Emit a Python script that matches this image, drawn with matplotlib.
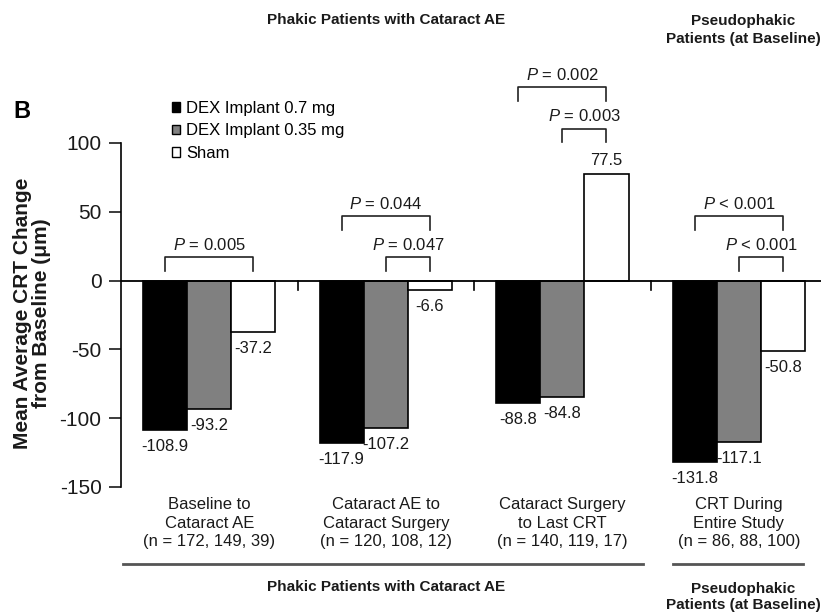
import matplotlib
matplotlib.use("Agg")
import matplotlib.pyplot as plt
import matplotlib.transforms as mtransforms
from matplotlib.patches import Patch
from matplotlib.lines import Line2D
import numpy as np

plt.rcParams['font.family'] = ['Liberation Sans', 'DejaVu Sans']
plt.rcParams['mathtext.fontset'] = 'custom'
plt.rcParams['mathtext.rm'] = 'Liberation Sans'
plt.rcParams['mathtext.it'] = 'Liberation Sans:italic'

# ---------------- data ----------------
categories = [
    "Baseline to\nCataract AE\n(n = 172, 149, 39)",
    "Cataract AE to\nCataract Surgery\n(n = 120, 108, 12)",
    "Cataract Surgery\nto Last CRT\n(n = 140, 119, 17)",
    "CRT During\nEntire Study\n(n = 86, 88, 100)",
]
series_names = ["DEX Implant 0.7 mg", "DEX Implant 0.35 mg", "Sham"]
dex_07 = [-108.9, -117.9, -88.8, -131.8]
dex_035 = [-93.2, -107.2, -84.8, -117.1]
sham = [-37.2, -6.6, 77.5, -50.8]
y_ticks = [100, 50, 0, -50, -100, -150]

# significance brackets: group, from-series, to-series, stacking tier, label
bracket_group = [0, 1, 1, 2, 2, 3, 3]
bracket_from = [0, 0, 1, 0, 1, 0, 1]
bracket_to = [2, 2, 2, 2, 2, 2, 2]
bracket_tier = [0, 1, 0, 1, 0, 1, 0]
bracket_label = [r"$\it{P}$ = 0.005", r"$\it{P}$ = 0.044", r"$\it{P}$ = 0.047",
                 r"$\it{P}$ = 0.002", r"$\it{P}$ = 0.003",
                 r"$\it{P}$ < 0.001", r"$\it{P}$ < 0.001"]

top_left_title = "Phakic Patients with Cataract AE"
top_right_title = "Pseudophakic\nPatients (at Baseline)"

# ---------------- layout ----------------
W, H = 821, 614
fig = plt.figure(figsize=(W / 100, H / 100), dpi=100)


def fx(px):
    return px / W


def fy(py):
    return 1 - py / H


ax = fig.add_axes([fx(121), fy(487), fx(821) - fx(121), fy(143) - fy(487)])
series = [dex_07, dex_035, sham]
colors = ["#000000", "#808080", "#ffffff"]
offsets = [-1, 0, 1]
x = np.arange(len(categories)) * 4.0

for vals, col, off in zip(series, colors, offsets):
    ax.bar(x + off, vals, width=1.0, color=col, edgecolor="black",
           linewidth=1.2, zorder=2)

ax.set_xlim(-2.0, 13.86)
ax.set_ylim(-150, 100)
ax.axhline(0, color="black", lw=1.3, zorder=3)

for s in ["top", "right", "bottom"]:
    ax.spines[s].set_visible(False)
ax.spines["left"].set_linewidth(1.2)
ax.set_yticks(y_ticks)
ax.set_yticklabels([str(t) for t in y_ticks])
ax.tick_params(axis="y", labelsize=15, length=9, width=1.2, pad=5, colors="#1a1a1a")
ax.set_xticks(x)
ax.set_xticklabels(categories, fontsize=12, color="#1a1a1a", linespacing=1.32)
ax.tick_params(axis="x", length=0, pad=7)

# separator ticks between groups
for b in (x[:-1] + x[1:]) / 2:
    ax.plot([b, b], [0, -7], color="black", lw=1.2, zorder=3)

# value labels
for vals, off in zip(series, offsets):
    for xi, v in zip(x + off, vals):
        if v < 0:
            ax.annotate(f"{v}", (xi, v), xytext=(0, -6.5), textcoords="offset points",
                        ha="center", va="top", fontsize=12, color="#1a1a1a")
        else:
            ax.annotate(f"{v}", (xi, v), xytext=(0, 4), textcoords="offset points",
                        ha="center", va="bottom", fontsize=12, color="#1a1a1a")

# brackets
for g, f, t, tier, lab in zip(bracket_group, bracket_from, bracket_to,
                              bracket_tier, bracket_label):
    xl = x[g] + offsets[f]
    xr = x[g] + offsets[t]
    span_vals = [series[k][g] for k in range(f, t + 1)]
    top = max(span_vals)
    base = max(0, top + 16) if top > 0 else 0
    lvl = base + 17 + tier * 30
    ax.plot([xl, xl, xr, xr], [lvl - 10, lvl, lvl, lvl - 10], color="#222222",
            lw=1.2, clip_on=False, zorder=3)
    ax.annotate(lab, ((xl + xr) / 2, lvl), xytext=(0, 3), textcoords="offset points",
                ha="center", va="bottom", fontsize=12, color="#1a1a1a",
                annotation_clip=False)

# legend
handles = [Patch(facecolor=c, edgecolor="black", linewidth=1.0) for c in colors]
fig.legend(handles, series_names, loc="upper left",
           bbox_to_anchor=(fx(172), fy(101)), frameon=False, fontsize=12,
           handlelength=0.5, handleheight=0.5, handletextpad=0.35,
           labelspacing=0.45, borderpad=0, borderaxespad=0)

# panel letter and y label
fig.text(fx(13), fy(111), "B", fontsize=17, fontweight="bold", ha="left", va="center")
fig.text(fx(32), fy(313), "Mean Average CRT Change\nfrom Baseline (μm)", rotation=90,
         ha="center", va="center", fontsize=15, fontweight="bold", linespacing=1.0,
         multialignment="center", color="#1a1a1a")

# group titles
trans = mtransforms.blended_transform_factory(ax.transData, fig.transFigure)
ax.text(np.mean(x[:3]), fy(20), top_left_title, transform=trans, ha="center",
        va="center", fontsize=11, fontweight="bold", color="#1a1a1a")
ax.text(x[3] + 0.1, fy(30), top_right_title, transform=trans, ha="center",
        va="center", fontsize=11, fontweight="bold", linespacing=1.45, color="#1a1a1a")

# bottom bracket lines and titles
line_y = fy(564)
fig.add_artist(Line2D([-1.95, x[2] + 1.83], [line_y, line_y], transform=trans,
                      color="#555555", lw=2.0))
fig.add_artist(Line2D([x[3] - 1.5, x[3] + 1.46], [line_y, line_y], transform=trans,
                      color="#555555", lw=2.0))
ax.text(np.mean(x[:3]), fy(587), top_left_title, transform=trans, ha="center",
        va="center", fontsize=11, fontweight="bold", color="#1a1a1a")
ax.text(x[3] + 0.1, fy(597), top_right_title, transform=trans, ha="center",
        va="center", fontsize=11, fontweight="bold", linespacing=1.25, color="#1a1a1a")

fig.savefig("out.png", dpi=100)
